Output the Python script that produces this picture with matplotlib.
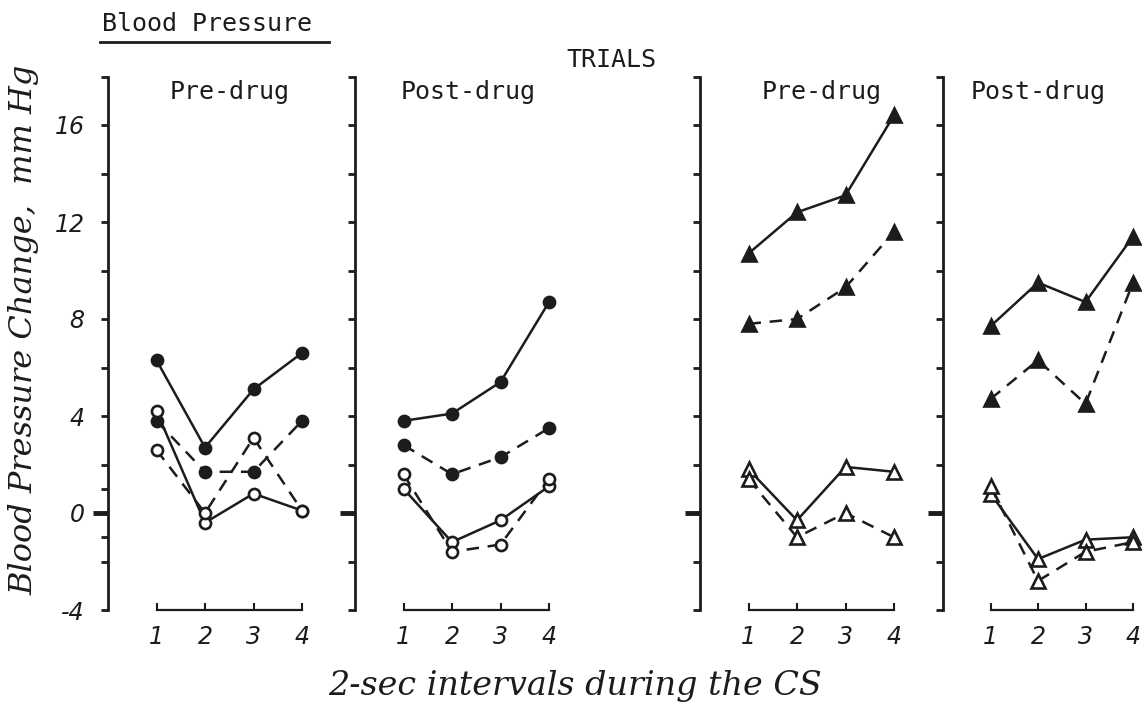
import matplotlib
matplotlib.use("Agg")
import matplotlib.pyplot as plt
from matplotlib.lines import Line2D

# Blood pressure change (mm Hg) over four 2-sec CS intervals
intervals = [1, 2, 3, 4]

# pre-drug, circles
pre1_filled_solid = [6.3, 2.7, 5.1, 6.6]
pre1_filled_dashed = [3.8, 1.7, 1.7, 3.8]
pre1_open_solid = [4.2, -0.4, 0.8, 0.1]
pre1_open_dashed = [2.6, 0.0, 3.1, 0.1]

# post-drug, circles
post1_filled_solid = [3.8, 4.1, 5.4, 8.7]
post1_filled_dashed = [2.8, 1.6, 2.3, 3.5]
post1_open_solid = [1.0, -1.2, -0.3, 1.1]
post1_open_dashed = [1.6, -1.6, -1.3, 1.4]

# pre-drug, triangles
pre2_filled_solid = [10.7, 12.4, 13.1, 16.4]
pre2_filled_dashed = [7.8, 8.0, 9.3, 11.6]
pre2_open_solid = [1.8, -0.3, 1.9, 1.7]
pre2_open_dashed = [1.4, -1.0, 0.0, -1.0]

# post-drug, triangles
post2_filled_solid = [7.7, 9.5, 8.7, 11.4]
post2_filled_dashed = [4.7, 6.3, 4.5, 9.5]
post2_open_solid = [0.8, -1.9, -1.1, -1.0]
post2_open_dashed = [1.1, -2.8, -1.6, -1.2]

panel_titles = ["Pre-drug", "Post-drug", "Pre-drug", "Post-drug"]
ytick_labels = {16: "16", 12: "12", 8: "8", 4: "4", 0: "0", -4: "-4"}

INK = "#1c1c1c"
W, H = 1142, 704
DASH = (0, (5, 3.5))


def fx(x):
    return x / W


def fy(y):
    return 1 - y / H


def make_panel(fig, left_px, unit, yticks, show_labels):
    ax = fig.add_axes([fx(left_px), fy(610), 5 * unit / W, 533.5 / H])
    ax.set_xlim(0, 5)
    ax.set_ylim(-4, 18)
    ax.patch.set_visible(False)
    for s in ("top", "right"):
        ax.spines[s].set_visible(False)
    ax.spines["left"].set_bounds(-4, 18)
    ax.spines["bottom"].set_bounds(1, 4)
    ax.spines["left"].set_linewidth(2)
    ax.spines["bottom"].set_linewidth(1.6)
    ax.spines["left"].set_color(INK)
    ax.spines["bottom"].set_color(INK)

    ax.set_xticks(intervals)
    ax.set_xticklabels([str(i) for i in intervals], fontstyle="italic",
                       family="DejaVu Sans", fontsize=17, color=INK)
    ax.tick_params(axis="x", direction="in", length=5, width=1.5,
                   pad=11, color=INK)

    ax.set_yticks(yticks)
    if show_labels:
        ax.set_yticklabels([ytick_labels.get(v, "") for v in yticks],
                           fontstyle="italic", family="DejaVu Sans",
                           fontsize=17, color=INK)
    else:
        ax.set_yticklabels(["" for v in yticks])
    ax.tick_params(axis="y", direction="out", length=5, width=2,
                   pad=12, color=INK)
    # the zero line gets a longer, heavier tick
    for tick, v in zip(ax.yaxis.get_major_ticks(), yticks):
        if v == 0:
            tick.tick1line.set_markersize(11)
            tick.tick1line.set_markeredgewidth(3.5)
    return ax


def draw_series(ax, values, marker, filled, dashed):
    ms = 8 if marker == "o" else 9.5
    ax.plot(intervals, values, color=INK, lw=1.8,
            ls=DASH if dashed else "-",
            marker=marker, ms=ms,
            mfc=INK if filled else "white", mec=INK, mew=1.9,
            clip_on=False)


fig = plt.figure(figsize=(11.42, 7.04), dpi=100)

ticks_a = [-4, -2, -1, 0, 1, 2, 4, 6, 8, 10, 12, 14, 16, 18]
ticks_b = [-4, -2, 0, 2, 4, 6, 8, 10, 12, 14, 16, 18]

panels = [
    (108, 48.5, ticks_a, True, "o",
     [pre1_filled_solid, pre1_filled_dashed, pre1_open_solid, pre1_open_dashed]),
    (355, 48.5, ticks_b, False, "o",
     [post1_filled_solid, post1_filled_dashed, post1_open_solid, post1_open_dashed]),
    (700, 48.5, ticks_b, False, "^",
     [pre2_filled_solid, pre2_filled_dashed, pre2_open_solid, pre2_open_dashed]),
    (943, 47.5, ticks_b, False, "^",
     [post2_filled_solid, post2_filled_dashed, post2_open_solid, post2_open_dashed]),
]

for left, unit, yt, lab, mk, series in panels:
    ax = make_panel(fig, left, unit, yt, lab)
    fs, fd, os_, od = series
    draw_series(ax, fs, mk, True, False)
    draw_series(ax, fd, mk, True, True)
    draw_series(ax, os_, mk, False, False)
    draw_series(ax, od, mk, False, True)

mono = dict(family="DejaVu Sans Mono", fontsize=18, color=INK)

fig.text(fx(102), fy(24), "Blood Pressure", ha="left", va="center", **mono)
fig.add_artist(Line2D([fx(100), fx(329)], [fy(42), fy(42)], lw=2, color=INK))
fig.text(fx(611), fy(60), "TRIALS", ha="center", va="center", **mono)

for cx, title in zip([230, 468, 822, 1038], panel_titles):
    fig.text(fx(cx), fy(92), title, ha="center", va="center", **mono)

fig.text(fx(24), fy(330), "Blood Pressure Change,  mm Hg", rotation=90,
         ha="center", va="center", family="DejaVu Serif", fontstyle="italic",
         fontsize=23, color=INK)
fig.text(fx(575), fy(686), "2-sec intervals during the CS",
         ha="center", va="center", family="DejaVu Serif", fontstyle="italic",
         fontsize=24, color=INK)

fig.savefig("out.png", dpi=100, facecolor="white")
